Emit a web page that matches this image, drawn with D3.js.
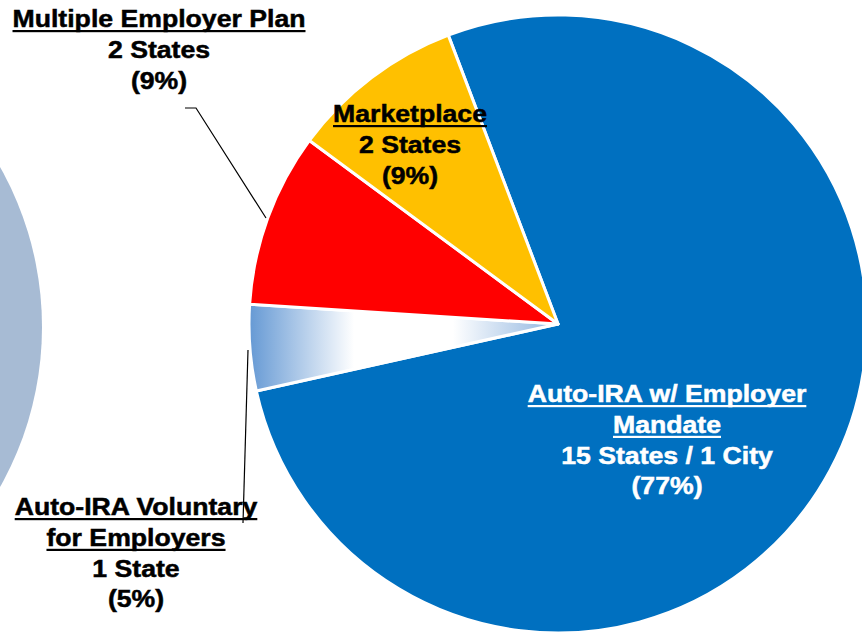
<!DOCTYPE html>
<html>
<head>
<meta charset="utf-8">
<script src="https://cdn.jsdelivr.net/npm/d3@7"></script>
<style>
  html, body { margin: 0; padding: 0; background: #fff; }
  svg { display: block; }
  text { font-family: "Liberation Sans", Arial, sans-serif; font-weight: bold; }
</style>
</head>
<body>
<div id="chart"></div>
<script>
// Values (slice shares from the slice angles).
const categories = ["Auto-IRA w/ Employer Mandate", "Auto-IRA Voluntary for Employers", "Multiple Employer Plan", "Marketplace"];
const titleLines = [["Auto-IRA w/ Employer", "Mandate"], ["Auto-IRA Voluntary", "for Employers"], ["Multiple Employer Plan"], ["Marketplace"]];
const countLabels = ["15 States / 1 City", "1 State", "2 States", "2 States"];
const percentLabels = ["(77%)", "(5%)", "(9%)", "(9%)"];
const shares = [77.3, 4.5, 9.1, 9.1];

const W = 862, H = 633;
const cx = 558, cy = 324, R = 309;
const START = -20.8 * Math.PI / 180;

// layout: label centre x, first baseline y, ink colour
const labelPos = [
  { x: 667, y: 402, fill: "#fff" },
  { x: 136, y: 515, fill: "#000" },
  { x: 159, y: 27, fill: "#000" },
  { x: 410, y: 122, fill: "#000" },
];
const leaders = [
  null,
  [[248, 350], [243, 523]],
  [[185, 108], [196, 108], [266, 218]],
  null,
];
const FS = 24, SX = 1.11, LH = 30.8;

const svg = d3.select("#chart").append("svg")
  .attr("width", W).attr("height", H).attr("viewBox", `0 0 ${W} ${H}`);

// gradient lives in the pie group's coordinates (origin = pie centre)
const defs = svg.append("defs");
const grad = defs.append("linearGradient").attr("id", "volGrad")
  .attr("gradientUnits", "userSpaceOnUse")
  .attr("x1", -R).attr("y1", 0).attr("x2", 0).attr("y2", 0);
[[0, "#6599d4"], [0.34, "#ffffff"], [0.66, "#ffffff"], [1, "#8eb4df"]].forEach(([o, c]) =>
  grad.append("stop").attr("offset", o).attr("stop-color", c));

const fills = ["#0070C0", "url(#volGrad)", "#FF0000", "#FFC000"];

// secondary circle, cut off at the left edge
svg.append("circle").attr("cx", -284).attr("cy", 327).attr("r", 326).attr("fill", "#A7BBD4");

const pie = d3.pie().sort(null).value(d => d)
  .startAngle(START).endAngle(START + 2 * Math.PI);
const arc = d3.arc().innerRadius(0).outerRadius(R);

const g = svg.append("g").attr("transform", `translate(${cx},${cy})`);
g.selectAll("path.slice").data(pie(shares)).join("path").attr("class", "slice")
  .attr("d", arc)
  .attr("fill", (d, i) => fills[i])
  .attr("stroke", "#fff").attr("stroke-width", 3).attr("stroke-linejoin", "round");

// leader lines
const line = d3.line();
svg.selectAll("path.leader").data(leaders.filter(Boolean)).join("path").attr("class", "leader")
  .attr("d", line).attr("fill", "none").attr("stroke", "#000").attr("stroke-width", 1.2);

// labels
categories.forEach((cat, i) => {
  const p = labelPos[i];
  const lines = titleLines[i].map(t => ({ t, u: true }))
    .concat([{ t: countLabels[i], u: false }, { t: percentLabels[i], u: false }]);
  lines.forEach((ln, k) => {
    const y = p.y + k * LH;
    const t = svg.append("text")
      .attr("transform", `translate(${p.x},${y}) scale(${SX},1)`)
      .attr("text-anchor", "middle")
      .attr("font-size", FS)
      .attr("fill", p.fill)
      .attr("stroke", p.fill).attr("stroke-width", 0.5)
      .text(ln.t);
    if (ln.u) {
      const len = t.node().getComputedTextLength() * SX;
      svg.append("rect")
        .attr("x", p.x - len / 2).attr("y", y + 3)
        .attr("width", len).attr("height", 2.2)
        .attr("fill", p.fill);
    }
  });
});
</script>
</body>
</html>
